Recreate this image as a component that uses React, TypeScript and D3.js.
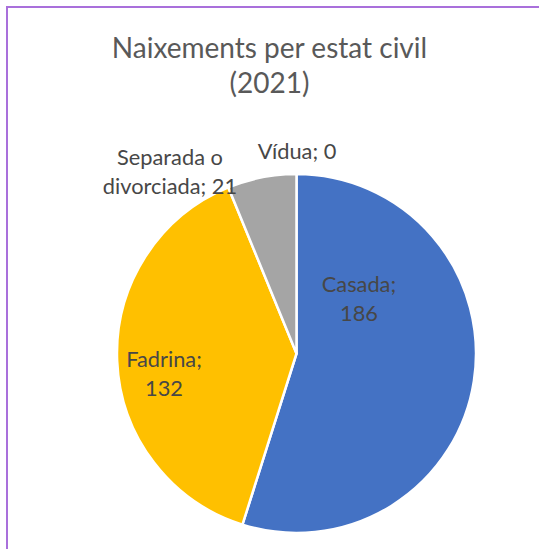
import React from "react";
import * as d3 from "d3";

const width = 539;
const height = 549;

const categories = ["Casada", "Fadrina", "Separada o divorciada", "Vídua"];
const values = [186, 132, 21, 0];
const colors = ["#4472C4", "#FFC000", "#A5A5A5", "#7F7F7F"];
// label lines as Excel wraps them
const labelLines = [
  ["Casada;", "186"],
  ["Fadrina;", "132"],
  ["Separada o", "divorciada; 21"],
  ["Vídua; 0"],
];
// label anchor (first baseline) relative to pie centre, in radius units
const labelOffsets = [
  [0.348, -0.343],
  [-0.738, 0.075],
  [-0.705, -1.05],
  [0.003, -1.084],
];
const titleLines = ["Naixements per estat civil", "(2021)"];

const cx = 296.5;
const cy = 353.5;
const radius = 179.5;
const font = "Lato, 'Open Sans', sans-serif";
const titleColor = "#595959";
const labelColor = "#474747";

export default function App() {
  const data = categories.map((c, i) => ({ name: c, value: values[i] }));
  const pie = d3
    .pie<{ name: string; value: number }>()
    .sort(null)
    .value((d) => d.value);
  const arcs = pie(data);
  const arc = d3
    .arc<d3.PieArcDatum<{ name: string; value: number }>>()
    .innerRadius(0)
    .outerRadius(radius);

  return (
    <svg
      width={width}
      height={height}
      style={{ position: "absolute", left: 0, top: 0, background: "#fff" }}
    >
      <rect
        x={7}
        y={7}
        width={width + 20}
        height={height + 20}
        fill="#fff"
        stroke="#A970DB"
        strokeWidth={2}
      />
      {titleLines.map((t, i) => (
        <text
          key={t}
          x={269.5}
          y={58 + i * 35}
          textAnchor="middle"
          fontFamily={font}
          fontSize={28}
          fill={titleColor}
        >
          {t}
        </text>
      ))}
      <g transform={`translate(${cx},${cy})`}>
        {arcs
          .filter((a) => a.value > 0)
          .map((a) => (
            <path
              key={a.data.name}
              d={arc(a) || ""}
              fill={colors[a.index]}
              stroke="#fff"
              strokeWidth={2.5}
              strokeLinejoin="round"
            />
          ))}
        {arcs.map((a) => (
          <text
            key={"l" + a.data.name}
            fontFamily={font}
            fontSize={21.8}
            fill={labelColor}
            textAnchor="middle"
          >
            {labelLines[a.index].map((line, j) => (
              <tspan
                key={line}
                x={labelOffsets[a.index][0] * radius}
                y={labelOffsets[a.index][1] * radius + j * 29}
              >
                {line}
              </tspan>
            ))}
          </text>
        ))}
      </g>
    </svg>
  );
}
